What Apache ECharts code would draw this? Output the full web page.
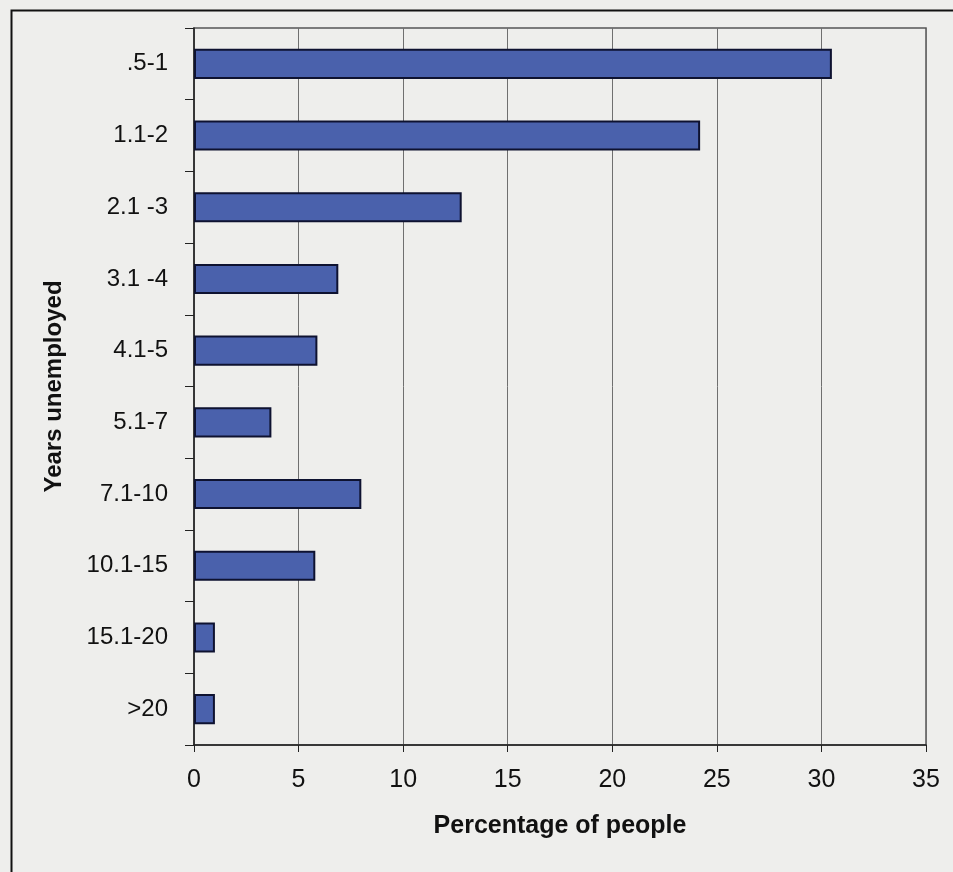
<!DOCTYPE html>
<html>
<head>
<meta charset="utf-8">
<style>
  html, body { margin: 0; padding: 0; background: #eeeeec; }
  #chart { width: 953px; height: 872px; }
</style>
<script src="https://cdn.jsdelivr.net/npm/echarts@6/dist/echarts.min.js"></script>
</head>
<body>
<div id="chart"></div>
<script>
// Duration of unemployment bands (years), top to bottom
const categories = ['.5-1', '1.1-2', '2.1 -3', '3.1 -4', '4.1-5', '5.1-7', '7.1-10', '10.1-15', '15.1-20', '>20'];
// Share of people in each band (%)
const percentages = [30.5, 24.2, 12.8, 6.9, 5.9, 3.7, 8.0, 5.8, 1.0, 1.0];
// Horizontal axis range
const xMin = 0;
const xMax = 35;
const xStep = 5;

const fontFamily = '"Liberation Sans", Arial, Helvetica, sans-serif';

const chart = echarts.init(document.getElementById('chart'), null, { renderer: 'canvas' });

chart.setOption({
  backgroundColor: '#eeeeec',
  animation: false,
  graphic: [{
    type: 'rect',
    left: 9,
    top: 8,
    shape: { width: 980, height: 900 },
    style: { fill: 'none', stroke: '#111', lineWidth: 2 },
    z: 0
  }],
  grid: {
    left: 194,
    right: 27,
    top: 28,
    bottom: 127,
    show: true,
    borderColor: '#555',
    borderWidth: 1.5,
    backgroundColor: 'transparent'
  },
  xAxis: {
    type: 'value',
    min: xMin,
    max: xMax,
    interval: xStep,
    name: 'Percentage of people',
    nameLocation: 'middle',
    nameGap: 69,
    nameTextStyle: { fontFamily, fontSize: 25, fontWeight: 'bold', color: '#111' },
    axisLine: { show: true, lineStyle: { color: '#222', width: 1.5 } },
    axisTick: { show: true, length: 7, lineStyle: { color: '#222', width: 1 } },
    axisLabel: { fontFamily, fontSize: 25, color: '#111', margin: 23 },
    splitLine: { show: true, lineStyle: { color: '#6f6f6f', width: 1 } }
  },
  yAxis: {
    type: 'category',
    inverse: true,
    data: categories,
    name: 'Years unemployed',
    nameLocation: 'middle',
    nameGap: 128,
    nameTextStyle: { fontFamily, fontSize: 24, fontWeight: 'bold', color: '#111' },
    axisLine: { show: true, lineStyle: { color: '#222', width: 1.5 } },
    axisTick: { show: true, length: 9, alignWithLabel: false, lineStyle: { color: '#222', width: 1 } },
    axisLabel: { fontFamily, fontSize: 24, color: '#111', margin: 26 },
    splitLine: { show: false }
  },
  series: [{
    type: 'bar',
    data: percentages,
    barWidth: '42%',
    itemStyle: { color: '#4a61ac', borderColor: '#0e1230', borderWidth: 2 }
  }]
});
</script>
</body>
</html>
